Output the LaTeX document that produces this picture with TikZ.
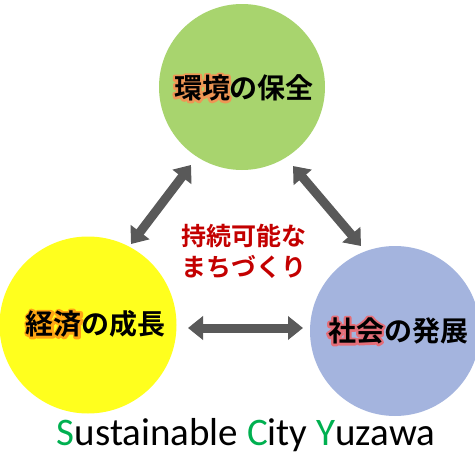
\documentclass[tikz,border=0pt]{standalone}
\usepackage{fontspec}
\usetikzlibrary{arrows.meta}
\newfontfamily\cjk{Noto Sans CJK JP}[BoldFont=Noto Sans CJK JP Bold]
\newfontfamily\carlito{Carlito}
\definecolor{cgreen}{RGB}{168,212,110}
\definecolor{cyellow}{RGB}{255,255,30}
\definecolor{cblue}{RGB}{164,180,222}
\definecolor{cgray}{RGB}{89,89,89}
\definecolor{cred}{RGB}{195,0,0}
\definecolor{lgreen}{RGB}{0,176,80}
\definecolor{glowor}{RGB}{238,150,85}
\definecolor{glowye}{RGB}{255,165,20}
\definecolor{glowrd}{RGB}{228,110,120}
% glow: stroked copy of the text under the plain text
\newcommand\halo[2]{\leavevmode\rlap{\color{#1}\special{pdf:literal direct 2 Tr 4.5 w 1 j}#2\special{pdf:literal direct 0 Tr 1 w}}#2}
\tikzset{
  bubble/.style={circle, inner sep=0pt},
  lbl/.style={font=\cjk\bfseries\fontsize{28}{30}\selectfont, inner sep=0pt},
  arr/.style={draw=cgray, line width=9,
    {Triangle[length=15,width=23]}-{Triangle[length=15,width=23]}},
}
\begin{document}
\begin{tikzpicture}[x=1pt,y=-1pt]
\useasboundingbox (0,0) rectangle (475,455);
\node[bubble, fill=cgreen, minimum size=166] (env) at (242,87) {};
\node[bubble, fill=cyellow, minimum size=177] (eco) at (88,325) {};
\node[bubble, fill=cblue, minimum size=170] (soc) at (395,331) {};
\node[lbl] (envt) at (244,88) {\halo{glowor}{環境}の保全};
\node[lbl] (ecot) at (96,324) {\halo{glowye}{経済}の成長};
\node[lbl] (soct) at (398,331) {\halo{glowrd}{社会}の発展};
\node[font=\cjk\bfseries\fontsize{25}{31}\selectfont, text=cred, align=center, inner sep=0pt] (mid) at (244,251) {持続可能な\\まちづくり};
\coordinate (l1) at (131,244);
\coordinate (l2) at (191,165);
\coordinate (r1) at (293,166);
\coordinate (r2) at (361,246);
\coordinate (b1) at (188,328);
\coordinate (b2) at (303,328);
\draw[arr] (l1) -- (l2);
\draw[arr] (r1) -- (r2);
\draw[arr] (b1) -- (b2);
\node[font=\carlito\fontsize{39}{41}\selectfont, anchor=base, inner sep=0pt] (title) at (246,445)
  {\textcolor{lgreen}{S}ustainable \textcolor{lgreen}{C}ity \textcolor{lgreen}{Y}uzawa};
\end{tikzpicture}
\end{document}
